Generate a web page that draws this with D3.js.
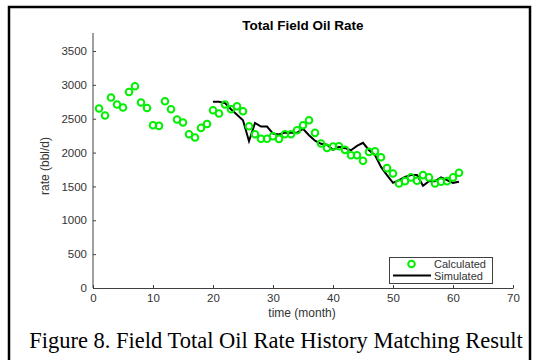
<!DOCTYPE html>
<html>
<head>
<meta charset="utf-8">
<script src="https://cdn.jsdelivr.net/npm/d3@7"></script>
<style>
  body { margin: 0; background: #fff; }
  svg { display: block; }
  text { font-family: "Liberation Sans", Arial, sans-serif; }
  .tick text { fill: #333; font-size: 11.5px; }
  .caption { font-family: "Liberation Serif", "Times New Roman", serif; }
</style>
</head>
<body>
<svg id="chart" width="551" height="360"></svg>
<script>
// calculated (green circles), months 1..61
var calcMonths = d3.range(1, 62);
var calcRates = [
  2650, 2547, 2813, 2709, 2665, 2895, 2979, 2739, 2659, 2404,
  2394, 2758, 2640, 2488, 2444, 2271, 2223, 2364, 2423, 2625,
  2577, 2709, 2640, 2684, 2611, 2389, 2271, 2205, 2205, 2240,
  2202, 2271, 2271, 2330, 2404, 2478, 2291, 2134, 2068, 2090,
  2094, 2040, 1960, 1960, 1878, 2010, 2018, 1932, 1770, 1692,
  1544, 1578, 1633, 1583, 1667, 1633, 1544, 1568, 1578, 1633,
  1701
];

// simulated (black line), months 20..61
var simMonths = d3.range(20, 62);
var simRates = [
  2750, 2750, 2730, 2640, 2560, 2478, 2168, 2438, 2385, 2385,
  2281, 2267, 2296, 2291, 2291, 2350, 2257, 2175, 2130, 2115,
  2040, 2084, 2065, 2035, 2099, 2144, 2035, 1962, 1789, 1667,
  1553, 1593, 1640, 1667, 1667, 1509, 1578, 1578, 1633, 1593,
  1553, 1568
];

var xTicks = [0, 10, 20, 30, 40, 50, 60, 70];
var yTicks = [0, 500, 1000, 1500, 2000, 2500, 3000, 3500];

var svg = d3.select('#chart');

// figure frame
svg.append('rect')
  .attr('x', 9).attr('y', 7)
  .attr('width', 521).attr('height', 370)
  .attr('fill', 'none')
  .attr('stroke', '#000')
  .attr('stroke-width', 2.5);

var x = d3.scaleLinear().domain([0, 70]).range([93, 513]);
var y = d3.scaleLinear().domain([0, 3500]).range([288, 51]);

var axisColor = '#404040';
var green = '#00f000';

// x axis, ticks pointing inward
var gx = svg.append('g')
  .attr('transform', 'translate(0,288)')
  .call(d3.axisBottom(x).tickValues(xTicks).tickSizeInner(-3).tickSizeOuter(0).tickPadding(6));
gx.select('.domain').attr('stroke', axisColor);
gx.selectAll('.tick line').attr('stroke', axisColor);

// y axis
var gy = svg.append('g')
  .attr('transform', 'translate(93,0)')
  .call(d3.axisLeft(y).tickValues(yTicks).tickFormat(d3.format('d'))
    .tickSizeInner(-3).tickSizeOuter(0).tickPadding(6));
gy.select('.domain').remove();
gy.append('line')
  .attr('x1', 0).attr('x2', 0)
  .attr('y1', 33).attr('y2', 288)
  .attr('stroke', axisColor);
gy.selectAll('.tick line').attr('stroke', axisColor);

// labels
svg.append('text')
  .attr('x', 303).attr('y', 30)
  .attr('text-anchor', 'middle')
  .attr('font-size', 13.5).attr('font-weight', 'bold')
  .attr('fill', '#000')
  .text('Total Field Oil Rate');

svg.append('text')
  .attr('x', 302).attr('y', 317)
  .attr('text-anchor', 'middle')
  .attr('font-size', 12).attr('fill', '#333')
  .text('time (month)');

svg.append('text')
  .attr('transform', 'translate(49,166) rotate(-90)')
  .attr('text-anchor', 'middle')
  .attr('font-size', 12).attr('fill', '#333')
  .text('rate (bbl/d)');

svg.append('text')
  .attr('class', 'caption')
  .attr('x', 276).attr('y', 348)
  .attr('text-anchor', 'middle')
  .attr('font-size', 22.5).attr('fill', '#000')
  .text('Figure 8. Field Total Oil Rate History Matching Result');

// simulated line
var line = d3.line()
  .x(function(d, i) { return x(simMonths[i]); })
  .y(function(d) { return y(d); });

svg.append('path')
  .datum(simRates)
  .attr('d', line)
  .attr('fill', 'none')
  .attr('stroke', '#000')
  .attr('stroke-width', 2);

// calculated circles
svg.append('g').selectAll('circle')
  .data(calcRates)
  .enter().append('circle')
  .attr('cx', function(d, i) { return x(calcMonths[i]); })
  .attr('cy', function(d) { return y(d); })
  .attr('r', 3.3)
  .attr('fill', 'none')
  .attr('stroke', green)
  .attr('stroke-width', 2);

// legend
var legend = svg.append('g');
legend.append('rect')
  .attr('x', 389.5).attr('y', 257.5)
  .attr('width', 103).attr('height', 26)
  .attr('fill', '#fff')
  .attr('stroke', '#404040');
legend.append('circle')
  .attr('cx', 411.5).attr('cy', 264)
  .attr('r', 3.3)
  .attr('fill', 'none')
  .attr('stroke', green)
  .attr('stroke-width', 2);
legend.append('line')
  .attr('x1', 393).attr('x2', 431)
  .attr('y1', 275.5).attr('y2', 275.5)
  .attr('stroke', '#000')
  .attr('stroke-width', 2);
legend.append('text')
  .attr('x', 434).attr('y', 268)
  .attr('font-size', 11).attr('fill', '#333')
  .text('Calculated');
legend.append('text')
  .attr('x', 434).attr('y', 279.5)
  .attr('font-size', 11).attr('fill', '#333')
  .text('Simulated');
</script>
</body>
</html>
